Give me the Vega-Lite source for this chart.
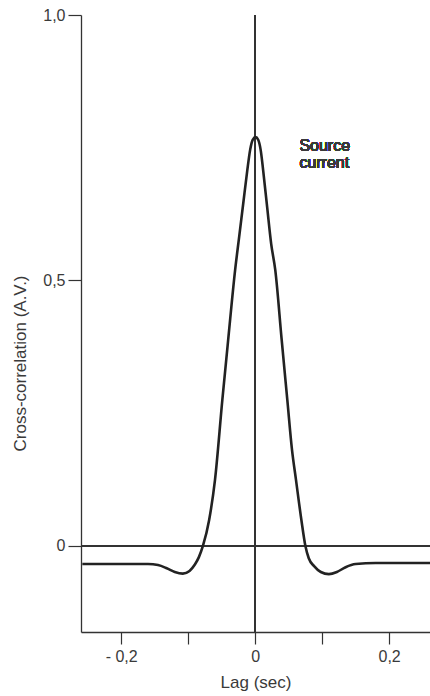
{
  "$schema": "https://vega.github.io/schema/vega-lite/v6.json",
  "width": 349,
  "height": 617,
  "autosize": {"type": "none"},
  "padding": {"left": 81, "top": 15, "right": 0, "bottom": 64},
  "background": "white",
  "config": {
    "view": {"stroke": null},
    "font": "Liberation Sans",
    "axis": {
      "domainColor": "#333333",
      "domainWidth": 1.3,
      "tickColor": "#333333",
      "tickWidth": 1.2,
      "labelColor": "#3a3a3a",
      "titleColor": "#3a3a3a",
      "labelFont": "Liberation Sans",
      "titleFont": "Liberation Sans",
      "labelFontWeight": "normal",
      "titleFontWeight": "normal",
      "grid": false
    }
  },
  "data": {
    "values": [
      {"lag": -0.258, "corr": -0.034},
      {"lag": -0.2, "corr": -0.034},
      {"lag": -0.16, "corr": -0.034},
      {"lag": -0.145, "corr": -0.036},
      {"lag": -0.132, "corr": -0.042},
      {"lag": -0.12, "corr": -0.049},
      {"lag": -0.108, "corr": -0.052},
      {"lag": -0.098, "corr": -0.047},
      {"lag": -0.09, "corr": -0.035},
      {"lag": -0.084, "corr": -0.021},
      {"lag": -0.078, "corr": 0.0},
      {"lag": -0.0687, "corr": 0.049},
      {"lag": -0.06, "corr": 0.124},
      {"lag": -0.049, "corr": 0.275},
      {"lag": -0.0403, "corr": 0.388},
      {"lag": -0.0299, "corr": 0.52},
      {"lag": -0.0239, "corr": 0.582},
      {"lag": -0.0179, "corr": 0.644},
      {"lag": -0.0119, "corr": 0.706},
      {"lag": -0.0075, "corr": 0.746},
      {"lag": -0.0037, "corr": 0.765},
      {"lag": 0.0007, "corr": 0.77},
      {"lag": 0.0045, "corr": 0.765},
      {"lag": 0.0082, "corr": 0.746},
      {"lag": 0.0119, "corr": 0.708},
      {"lag": 0.0179, "corr": 0.638},
      {"lag": 0.0239, "corr": 0.569},
      {"lag": 0.03, "corr": 0.52},
      {"lag": 0.0396, "corr": 0.388},
      {"lag": 0.048, "corr": 0.275},
      {"lag": 0.055, "corr": 0.181},
      {"lag": 0.061, "corr": 0.124},
      {"lag": 0.069, "corr": 0.049},
      {"lag": 0.075, "corr": 0.0},
      {"lag": 0.08, "corr": -0.023},
      {"lag": 0.088, "corr": -0.038},
      {"lag": 0.098, "corr": -0.049},
      {"lag": 0.11, "corr": -0.053},
      {"lag": 0.122, "corr": -0.049},
      {"lag": 0.135, "corr": -0.04},
      {"lag": 0.15, "corr": -0.034},
      {"lag": 0.18, "corr": -0.032},
      {"lag": 0.263, "corr": -0.032}
    ]
  },
  "layer": [
    {
      "mark": {"type": "rule", "color": "#333333", "strokeWidth": 1.2},
      "encoding": {"y": {"datum": 0}}
    },
    {
      "mark": {"type": "rule", "color": "#333333", "strokeWidth": 1.2},
      "encoding": {"x": {"datum": 0}}
    },
    {
      "mark": {"type": "line", "color": "#222222", "strokeWidth": 2.6, "interpolate": "monotone"},
      "encoding": {
        "x": {
          "field": "lag",
          "type": "quantitative",
          "scale": {"domain": [-0.26, 0.261], "nice": false, "zero": false},
          "axis": {
            "values": [-0.2, -0.1, 0, 0.1, 0.2],
            "labelExpr": "datum.value < -0.15 ? '- 0,2' : (datum.value > 0.15 ? '0,2' : (abs(datum.value) < 0.001 ? '0' : ''))",
            "labelFontSize": 16,
            "tickSize": 12,
            "labelPadding": 4,
            "title": "Lag (sec)",
            "titleFontSize": 17,
            "titlePadding": 10,
            "encode": {"labels": {"update": {"dx": {"signal": "datum.value < -0.15 ? -6 : 0"}}}}
          }
        },
        "y": {
          "field": "corr",
          "type": "quantitative",
          "scale": {"domain": [-0.162, 1.0], "nice": false, "zero": false},
          "axis": {
            "values": [0, 0.5, 1.0],
            "labelExpr": "abs(datum.value) < 0.001 ? '0' : replace(format(datum.value, '.1f'), '.', ',')",
            "labelFontSize": 16,
            "tickSize": 13,
            "labelPadding": 3,
            "title": "Cross-correlation  (A.V.)",
            "titleFontSize": 17,
            "titleAngle": -90,
            "titleX": -61,
            "titleY": 348,
            "titleAlign": "center",
            "titleBaseline": "middle"
          }
        }
      }
    },
    {
      "mark": {"type": "text", "text": ["Source", "current"], "align": "left", "baseline": "middle", "fontSize": 16, "lineHeight": 17, "color": "#3a3a3a", "font": "Liberation Sans"},
      "encoding": {"x": {"datum": 0.066}, "y": {"datum": 0.754}}
    }
  ]
}
